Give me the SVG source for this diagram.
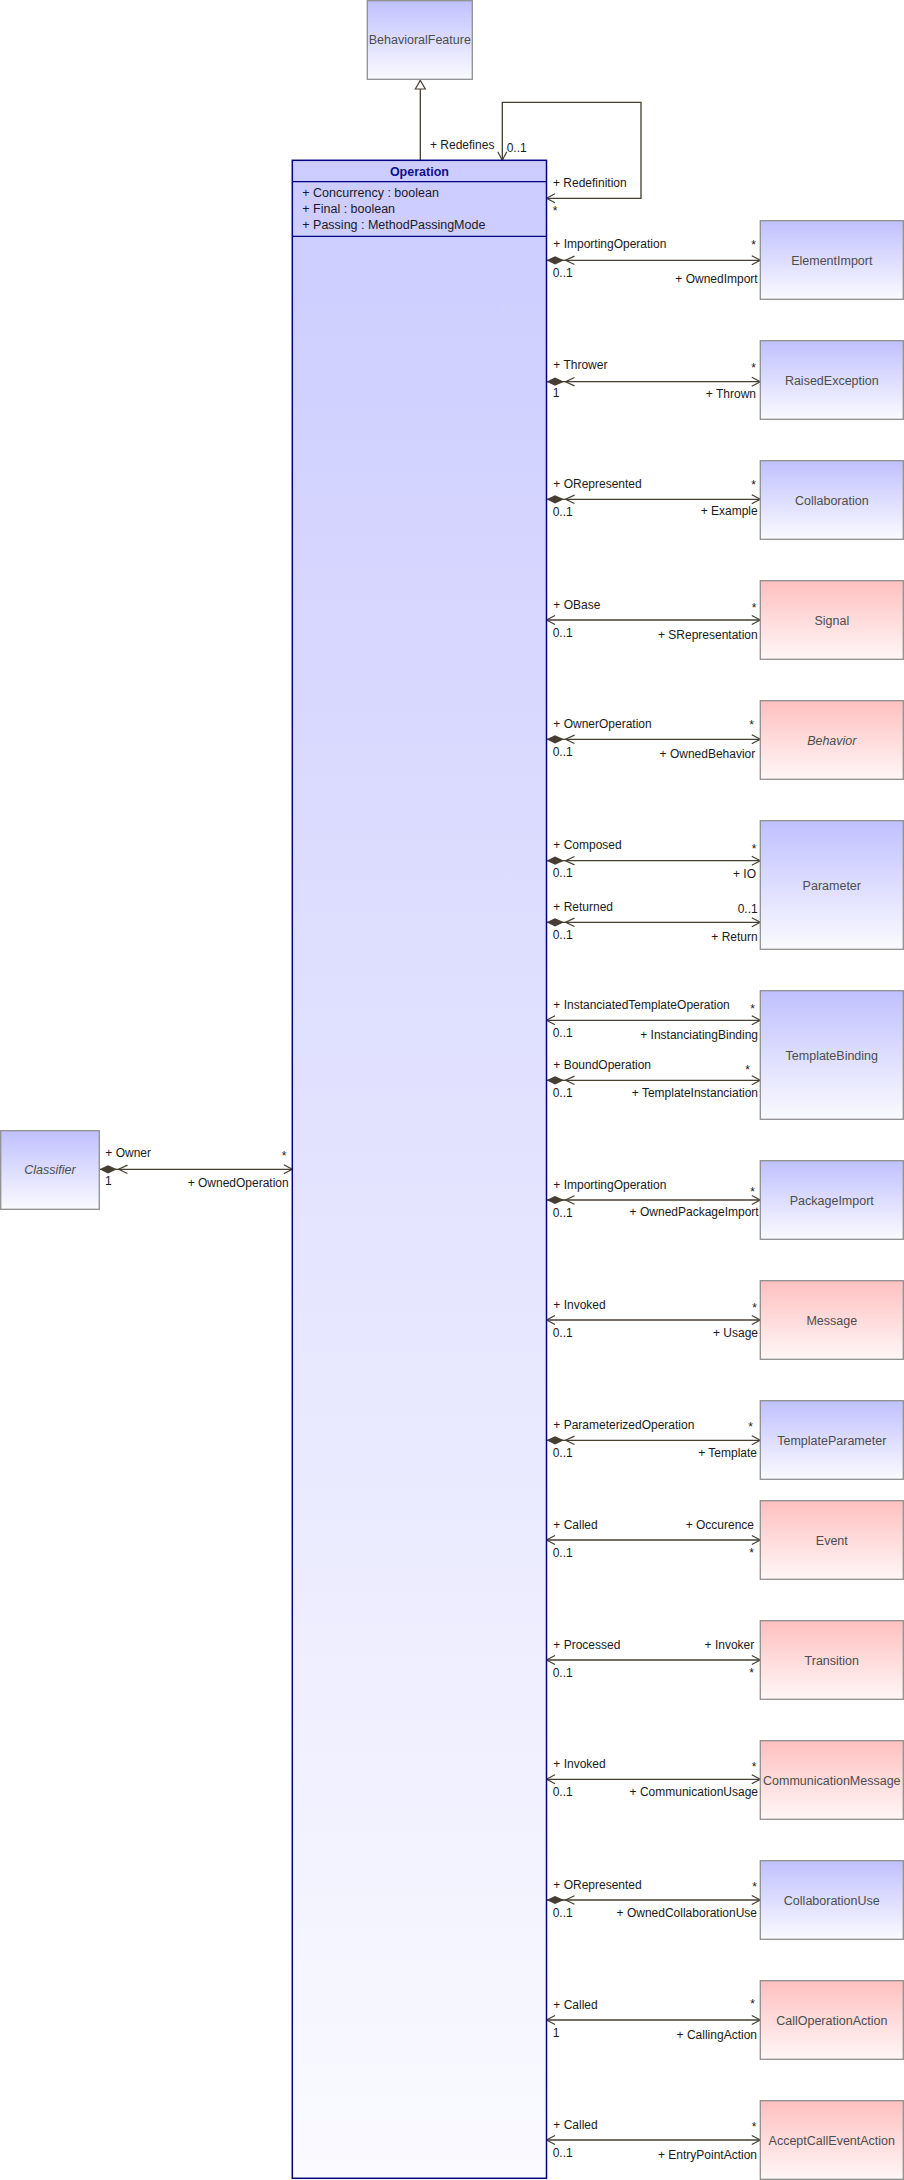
<svg xmlns="http://www.w3.org/2000/svg" width="904" height="2180" viewBox="0 0 904 2180">
<style>
.box{stroke:#8f8f8f;stroke-width:1.3}
.blue{fill:url(#gBlue)}
.pink{fill:url(#gPink)}
.name{font-family:"Liberation Sans",Arial,sans-serif;font-size:12.5px;fill:#4d4d4d;text-anchor:middle}
.it{font-style:italic}
.lbl{font-family:"Liberation Sans",Arial,sans-serif;font-size:12px;fill:#1a1a1a}
.end{text-anchor:end}
.attr{font-family:"Liberation Sans",Arial,sans-serif;font-size:12.5px;fill:#1a1a2a}
.conn{fill:none;stroke:#463e30;stroke-width:1.3}
</style>
<defs>
<linearGradient id="gBlue" x1="0" y1="0" x2="0" y2="1"><stop offset="0" stop-color="#C0C0FF"/><stop offset="1" stop-color="#FAFAFF"/></linearGradient>
<linearGradient id="gPink" x1="0" y1="0" x2="0" y2="1"><stop offset="0" stop-color="#FFC0C0"/><stop offset="1" stop-color="#FFF6F6"/></linearGradient>
<linearGradient id="gOp" x1="0" y1="0" x2="0" y2="1"><stop offset="0" stop-color="#CCCCFF"/><stop offset="1" stop-color="#FAFAFF"/></linearGradient>
<marker id="arr" markerUnits="userSpaceOnUse" markerWidth="12" markerHeight="12" refX="10" refY="5" orient="auto-start-reverse" overflow="visible">
<path d="M1.5,0.5 L10,5 L1.5,9.5" fill="none" stroke="#463e30" stroke-width="1.2"/>
</marker>
<marker id="dia" markerUnits="userSpaceOnUse" markerWidth="30" markerHeight="10" refX="0" refY="5" orient="auto" overflow="visible">
<path d="M0,5 L8.5,0.9 L17.5,5 L8.5,9.1 Z" fill="#463e30"/>
<path d="M28,0.8 L19,5 L28,9.2" fill="none" stroke="#463e30" stroke-width="1.2"/>
</marker>
<marker id="tri" markerUnits="userSpaceOnUse" markerWidth="12" markerHeight="10" refX="10" refY="5" orient="auto" overflow="visible">
<path d="M1.5,0 L10,5 L1.5,10 Z" fill="#fff" stroke="#463e30" stroke-width="1.2"/>
</marker>
</defs>
<rect width="904" height="2180" fill="#fff"/>

<g id="connectors">
<path class="conn" d="M420.3,160.3 L420.3,80.5" marker-end="url(#tri)"/>
<path class="conn" d="M546.5,198.3 L641,198.3 L641,102.3 L502.3,102.3 L502.3,160.3" marker-start="url(#arr)" marker-end="url(#arr)"/>
<path class="conn" d="M99.5,1169.3 L292.3,1169.3" marker-start="url(#dia)" marker-end="url(#arr)"/>
<path class="conn" d="M546.5,260.3 L760.3,260.3" marker-start="url(#dia)" marker-end="url(#arr)"/>
<path class="conn" d="M546.5,381.7 L760.3,381.7" marker-start="url(#dia)" marker-end="url(#arr)"/>
<path class="conn" d="M546.5,499.3 L760.3,499.3" marker-start="url(#dia)" marker-end="url(#arr)"/>
<path class="conn" d="M546.5,620 L760.3,620" marker-start="url(#arr)" marker-end="url(#arr)"/>
<path class="conn" d="M546.5,739.3 L760.3,739.3" marker-start="url(#dia)" marker-end="url(#arr)"/>
<path class="conn" d="M546.5,860.7 L760.3,860.7" marker-start="url(#dia)" marker-end="url(#arr)"/>
<path class="conn" d="M546.5,922.3 L760.3,922.3" marker-start="url(#dia)" marker-end="url(#arr)"/>
<path class="conn" d="M546.5,1020.3 L760.3,1020.3" marker-start="url(#arr)" marker-end="url(#arr)"/>
<path class="conn" d="M546.5,1080.3 L760.3,1080.3" marker-start="url(#dia)" marker-end="url(#arr)"/>
<path class="conn" d="M546.5,1200 L760.3,1200" marker-start="url(#dia)" marker-end="url(#arr)"/>
<path class="conn" d="M546.5,1320 L760.3,1320" marker-start="url(#arr)" marker-end="url(#arr)"/>
<path class="conn" d="M546.5,1440.3 L760.3,1440.3" marker-start="url(#dia)" marker-end="url(#arr)"/>
<path class="conn" d="M546.5,1540 L760.3,1540" marker-start="url(#arr)" marker-end="url(#arr)"/>
<path class="conn" d="M546.5,1660 L760.3,1660" marker-start="url(#arr)" marker-end="url(#arr)"/>
<path class="conn" d="M546.5,1779.3 L760.3,1779.3" marker-start="url(#arr)" marker-end="url(#arr)"/>
<path class="conn" d="M546.5,1900 L760.3,1900" marker-start="url(#dia)" marker-end="url(#arr)"/>
<path class="conn" d="M546.5,2020 L760.3,2020" marker-start="url(#arr)" marker-end="url(#arr)"/>
<path class="conn" d="M546.5,2140 L760.3,2140" marker-start="url(#arr)" marker-end="url(#arr)"/>
</g>

<g id="connector-labels">
<text class="lbl" x="430" y="149">+ Redefines</text>
<text class="lbl" x="506.7" y="152">0..1</text>
<text class="lbl" x="553" y="187">+ Redefinition</text>
<text class="lbl" x="552.7" y="214.6">*</text>

<text class="lbl" x="105.3" y="1157">+ Owner</text>
<text class="lbl" x="105" y="1185">1</text>
<text class="lbl end" x="288.7" y="1187">+ OwnedOperation</text>
<text class="lbl end" x="286.5" y="1160">*</text>

<text class="lbl" x="553.3" y="248">+ ImportingOperation</text>
<text class="lbl" x="552.7" y="276.5">0..1</text>
<text class="lbl end" x="757.7" y="283">+ OwnedImport</text>
<text class="lbl end" x="756" y="248.6">*</text>

<text class="lbl" x="553.3" y="369.3">+ Thrower</text>
<text class="lbl" x="552.7" y="397.3">1</text>
<text class="lbl end" x="756" y="397.5">+ Thrown</text>
<text class="lbl end" x="756" y="372">*</text>

<text class="lbl" x="553.3" y="488">+ ORepresented</text>
<text class="lbl" x="552.7" y="516">0..1</text>
<text class="lbl end" x="757.7" y="515">+ Example</text>
<text class="lbl end" x="756" y="489">*</text>

<text class="lbl" x="553.3" y="609">+ OBase</text>
<text class="lbl" x="552.7" y="637">0..1</text>
<text class="lbl end" x="757.7" y="639">+ SRepresentation</text>
<text class="lbl end" x="756.3" y="611.6">*</text>

<text class="lbl" x="553.3" y="728">+ OwnerOperation</text>
<text class="lbl" x="552.7" y="756">0..1</text>
<text class="lbl end" x="755.3" y="758">+ OwnedBehavior</text>
<text class="lbl end" x="754" y="728.6">*</text>

<text class="lbl" x="553.3" y="849">+ Composed</text>
<text class="lbl" x="552.7" y="877">0..1</text>
<text class="lbl end" x="756" y="878">+ IO</text>
<text class="lbl end" x="756.3" y="852.6">*</text>

<text class="lbl" x="553.3" y="911">+ Returned</text>
<text class="lbl" x="552.7" y="939">0..1</text>
<text class="lbl end" x="757.7" y="941">+ Return</text>
<text class="lbl end" x="757.7" y="913">0..1</text>

<text class="lbl" x="553.3" y="1009">+ InstanciatedTemplateOperation</text>
<text class="lbl" x="552.7" y="1037">0..1</text>
<text class="lbl end" x="758" y="1039">+ InstanciatingBinding</text>
<text class="lbl end" x="755" y="1012.6">*</text>

<text class="lbl" x="553.3" y="1069">+ BoundOperation</text>
<text class="lbl" x="552.7" y="1097">0..1</text>
<text class="lbl end" x="758" y="1097">+ TemplateInstanciation</text>
<text class="lbl end" x="750" y="1073.6">*</text>

<text class="lbl" x="553.3" y="1189">+ ImportingOperation</text>
<text class="lbl" x="552.7" y="1217">0..1</text>
<text class="lbl end" x="758.7" y="1216">+ OwnedPackageImport</text>
<text class="lbl end" x="755" y="1195.6">*</text>

<text class="lbl" x="553.3" y="1309">+ Invoked</text>
<text class="lbl" x="552.7" y="1337">0..1</text>
<text class="lbl end" x="758" y="1337">+ Usage</text>
<text class="lbl end" x="757" y="1311.6">*</text>

<text class="lbl" x="553.3" y="1429">+ ParameterizedOperation</text>
<text class="lbl" x="552.7" y="1457">0..1</text>
<text class="lbl end" x="757" y="1457">+ Template</text>
<text class="lbl end" x="753" y="1430.6">*</text>

<text class="lbl" x="553.3" y="1529">+ Called</text>
<text class="lbl end" x="754" y="1529">+ Occurence</text>
<text class="lbl" x="552.7" y="1557">0..1</text>
<text class="lbl end" x="754" y="1556.6">*</text>

<text class="lbl" x="553.3" y="1649">+ Processed</text>
<text class="lbl end" x="754.3" y="1649">+ Invoker</text>
<text class="lbl" x="552.7" y="1677">0..1</text>
<text class="lbl end" x="754" y="1676.6">*</text>

<text class="lbl" x="553.3" y="1768">+ Invoked</text>
<text class="lbl" x="552.7" y="1796">0..1</text>
<text class="lbl end" x="758" y="1796">+ CommunicationUsage</text>
<text class="lbl end" x="756.3" y="1770.6">*</text>

<text class="lbl" x="553.3" y="1889">+ ORepresented</text>
<text class="lbl" x="552.7" y="1917">0..1</text>
<text class="lbl end" x="757" y="1917">+ OwnedCollaborationUse</text>
<text class="lbl end" x="757" y="1890.6">*</text>

<text class="lbl" x="553.3" y="2009">+ Called</text>
<text class="lbl" x="552.7" y="2037">1</text>
<text class="lbl end" x="757" y="2039">+ CallingAction</text>
<text class="lbl end" x="755" y="2007.6">*</text>

<text class="lbl" x="553.3" y="2129">+ Called</text>
<text class="lbl" x="552.7" y="2157">0..1</text>
<text class="lbl end" x="757" y="2159">+ EntryPointAction</text>
<text class="lbl end" x="756.3" y="2130.6">*</text>
</g>

<g id="BehavioralFeature">
<rect class="box blue" x="367.3" y="0.7" width="105" height="78.6"/>
<text class="name" x="419.8" y="44">BehavioralFeature</text>
</g>

<g id="Operation">
<rect x="292.3" y="160.3" width="254.2" height="2018" fill="url(#gOp)" stroke="#000080" stroke-width="1.5"/>
<line x1="292.3" y1="181.7" x2="546.5" y2="181.7" stroke="#000080" stroke-width="1.3"/>
<line x1="292.3" y1="236.3" x2="546.5" y2="236.3" stroke="#000080" stroke-width="1.3"/>
<text x="419.4" y="175.5" font-family="Liberation Sans, Arial, sans-serif" font-size="12.5" font-weight="bold" fill="#10108a" text-anchor="middle">Operation</text>
<text class="attr" x="302.3" y="197.3">+ Concurrency : boolean</text>
<text class="attr" x="302.3" y="213.3">+ Final : boolean</text>
<text class="attr" x="302.3" y="229.3">+ Passing : MethodPassingMode</text>
</g>

<g id="Classifier">
<rect class="box blue" x="0.7" y="1130.7" width="98.6" height="78.6"/>
<text class="name it" x="50" y="1174">Classifier</text>
</g>

<g id="ElementImport"><rect class="box blue" x="760.3" y="220.7" width="143" height="78.6"/><text class="name" x="831.8" y="264.5">ElementImport</text></g>
<g id="RaisedException"><rect class="box blue" x="760.3" y="340.7" width="143" height="78.6"/><text class="name" x="831.8" y="384.5">RaisedException</text></g>
<g id="Collaboration"><rect class="box blue" x="760.3" y="460.7" width="143" height="78.6"/><text class="name" x="831.8" y="504.5">Collaboration</text></g>
<g id="Signal"><rect class="box pink" x="760.3" y="580.7" width="143" height="78.6"/><text class="name" x="831.8" y="624.5">Signal</text></g>
<g id="Behavior"><rect class="box pink" x="760.3" y="700.7" width="143" height="78.6"/><text class="name it" x="831.8" y="744.5">Behavior</text></g>
<g id="Parameter"><rect class="box blue" x="760.3" y="820.7" width="143" height="128.6"/><text class="name" x="831.8" y="889.5">Parameter</text></g>
<g id="TemplateBinding"><rect class="box blue" x="760.3" y="990.7" width="143" height="128.6"/><text class="name" x="831.8" y="1059.5">TemplateBinding</text></g>
<g id="PackageImport"><rect class="box blue" x="760.3" y="1160.7" width="143" height="78.6"/><text class="name" x="831.8" y="1204.5">PackageImport</text></g>
<g id="Message"><rect class="box pink" x="760.3" y="1280.7" width="143" height="78.6"/><text class="name" x="831.8" y="1324.5">Message</text></g>
<g id="TemplateParameter"><rect class="box blue" x="760.3" y="1400.7" width="143" height="78.6"/><text class="name" x="831.8" y="1444.5">TemplateParameter</text></g>
<g id="Event"><rect class="box pink" x="760.3" y="1500.7" width="143" height="78.6"/><text class="name" x="831.8" y="1544.5">Event</text></g>
<g id="Transition"><rect class="box pink" x="760.3" y="1620.7" width="143" height="78.6"/><text class="name" x="831.8" y="1664.5">Transition</text></g>
<g id="CommunicationMessage"><rect class="box pink" x="760.3" y="1740.7" width="143" height="78.6"/><text class="name" x="831.8" y="1784.5">CommunicationMessage</text></g>
<g id="CollaborationUse"><rect class="box blue" x="760.3" y="1860.7" width="143" height="78.6"/><text class="name" x="831.8" y="1904.5">CollaborationUse</text></g>
<g id="CallOperationAction"><rect class="box pink" x="760.3" y="1980.7" width="143" height="78.6"/><text class="name" x="831.8" y="2024.5">CallOperationAction</text></g>
<g id="AcceptCallEventAction"><rect class="box pink" x="760.3" y="2100.7" width="143" height="78.6"/><text class="name" x="831.8" y="2144.5">AcceptCallEventAction</text></g>
</svg>
